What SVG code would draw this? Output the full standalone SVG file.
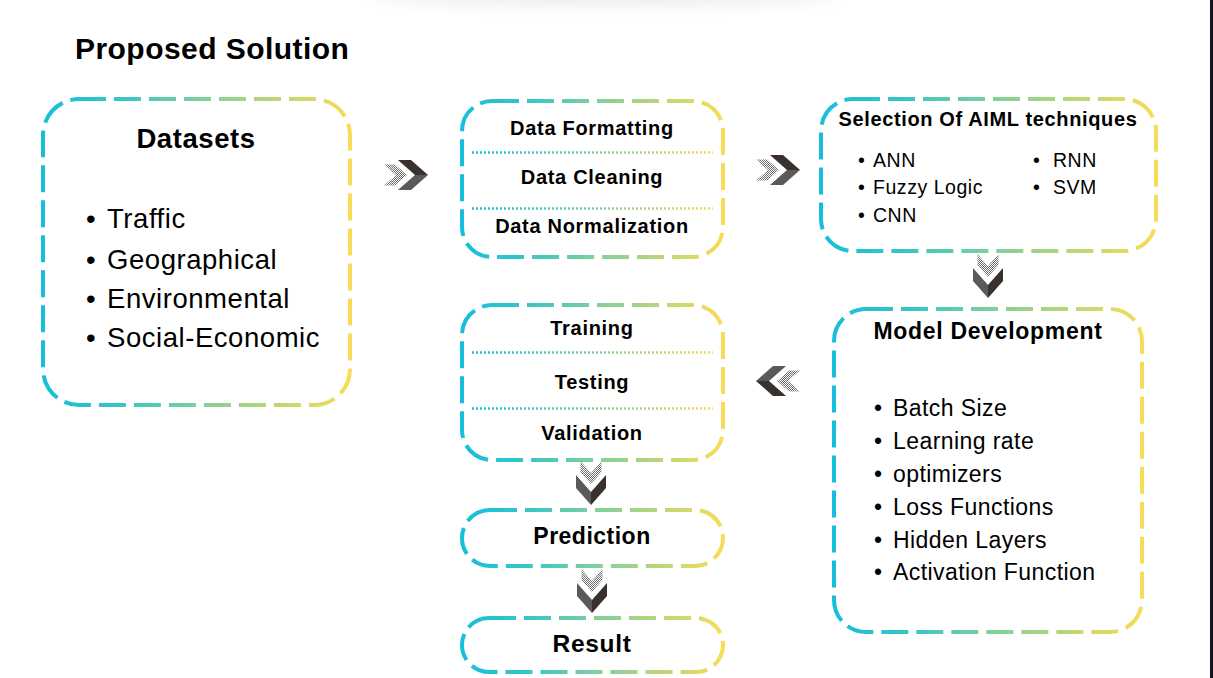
<svg xmlns="http://www.w3.org/2000/svg" width="1213" height="678" viewBox="0 0 1213 678">
<defs>
<linearGradient id="gBox" x1="0" y1="0" x2="1" y2="0">
<stop offset="0" stop-color="#17BEDC"/>
<stop offset="0.25" stop-color="#35C6C6"/>
<stop offset="0.5" stop-color="#7DCF9E"/>
<stop offset="0.75" stop-color="#B8D679"/>
<stop offset="1" stop-color="#F8DC57"/>
</linearGradient>
<linearGradient id="gDiv" gradientUnits="userSpaceOnUse" x1="472" y1="0" x2="713" y2="0">
<stop offset="0" stop-color="#17BEDC"/>
<stop offset="0.5" stop-color="#7DCF9E"/>
<stop offset="1" stop-color="#F8DC57"/>
</linearGradient>
<pattern id="chk" width="2" height="2" patternUnits="userSpaceOnUse">
<rect x="0" y="0" width="1" height="1" fill="#6e6e6e"/>
<rect x="1" y="1" width="1" height="1" fill="#6e6e6e"/>
</pattern>
<filter id="blur" x="-20%" y="-200%" width="140%" height="500%">
<feGaussianBlur stdDeviation="8"/>
</filter>
<g id="chev">
<polygon points="-44,-10.5 -33,-10.5 -21,0 -33,10.5 -44,10.5 -32,0" fill="url(#chk)"/>
<polygon points="-30,-15 -17,-15 0,0 -13,0" fill="#3a302c"/>
<polygon points="-13,0 0,0 -17,15 -30,15" fill="#5a5a5a"/>
</g>
</defs>
<style>
.box{fill:#fff;stroke:url(#gBox);stroke-width:4;stroke-dasharray:27 8}
.div{stroke:url(#gDiv);stroke-width:2.5;stroke-dasharray:2 2;fill:none}
text{font-family:"Liberation Sans",Arial,sans-serif;fill:#000}
.b{font-weight:bold}
.c{text-anchor:middle}
.sm{font-size:20px;letter-spacing:0.7px}
</style>
<rect width="1213" height="678" fill="#fff"/>
<ellipse cx="605" cy="-6" rx="235" ry="12" fill="#000" opacity="0.07" filter="url(#blur)"/>
<rect x="1210" y="0" width="3" height="678" fill="#15171c"/>

<text x="75" y="59" class="b" font-size="30" letter-spacing="0.45">Proposed Solution</text>

<g id="datasets">
<rect class="box" x="43" y="99" width="307" height="306" rx="36"/>
<text x="196" y="148" class="b c" font-size="27.5" letter-spacing="0.57">Datasets</text>
<g font-size="27.5" letter-spacing="0.55">
<text x="86" y="228">•</text><text x="107" y="228">Traffic</text>
<text x="86" y="269">•</text><text x="107" y="269">Geographical</text>
<text x="86" y="308">•</text><text x="107" y="308">Environmental</text>
<text x="86" y="347">•</text><text x="107" y="347">Social-Economic</text>
</g>
</g>

<g id="preprocessing">
<rect class="box" x="462" y="101" width="261" height="156" rx="30"/>
<line class="div" x1="472" y1="152.5" x2="713" y2="152.5"/>
<line class="div" x1="472" y1="208.5" x2="713" y2="208.5"/>
<text x="592" y="135" class="b c sm">Data Formatting</text>
<text x="592" y="184" class="b c sm">Data Cleaning</text>
<text x="592" y="233" class="b c sm">Data Normalization</text>
</g>

<g id="selection">
<rect class="box" x="821" y="99" width="335" height="152" rx="32"/>
<text x="988" y="126" class="b c" font-size="20" letter-spacing="0.63">Selection Of AIML techniques</text>
<g font-size="19.5" letter-spacing="0.54">
<text x="858" y="167">•</text><text x="873" y="167">ANN</text>
<text x="858" y="194">•</text><text x="873" y="194">Fuzzy Logic</text>
<text x="858" y="222">•</text><text x="873" y="222">CNN</text>
<text x="1033" y="167">•</text><text x="1053" y="167">RNN</text>
<text x="1033" y="194">•</text><text x="1053" y="194">SVM</text>
</g>
</g>

<g id="model">
<rect class="box" x="834" y="309" width="308" height="323" rx="32"/>
<text x="988" y="339" class="b c" font-size="23" letter-spacing="0.7">Model Development</text>
<g font-size="23" letter-spacing="0.43">
<text x="874" y="416">•</text><text x="893" y="416">Batch Size</text>
<text x="874" y="449">•</text><text x="893" y="449">Learning rate</text>
<text x="874" y="482">•</text><text x="893" y="482">optimizers</text>
<text x="874" y="515">•</text><text x="893" y="515">Loss Functions</text>
<text x="874" y="548">•</text><text x="893" y="548">Hidden Layers</text>
<text x="874" y="580">•</text><text x="893" y="580">Activation Function</text>
</g>
</g>

<g id="training">
<rect class="box" x="462" y="305" width="261" height="155" rx="30"/>
<line class="div" x1="472" y1="352.5" x2="713" y2="352.5"/>
<line class="div" x1="472" y1="408.5" x2="713" y2="408.5"/>
<text x="592" y="335" class="b c sm">Training</text>
<text x="592" y="389" class="b c sm">Testing</text>
<text x="592" y="440" class="b c sm">Validation</text>
</g>

<g id="prediction">
<rect class="box" x="462" y="510" width="261" height="56" rx="28"/>
<text x="592" y="544" class="b c" font-size="23" letter-spacing="0.49">Prediction</text>
</g>

<g id="result">
<rect class="box" x="462" y="618" width="261" height="54" rx="27"/>
<text x="592" y="652" class="b c" font-size="24.5" letter-spacing="0.68">Result</text>
</g>

<g id="connectors">
<use href="#chev" transform="translate(428,175)"/>
<use href="#chev" transform="translate(800,170)"/>
<use href="#chev" transform="translate(988,298) rotate(90)"/>
<use href="#chev" transform="translate(756,381) rotate(180)"/>
<use href="#chev" transform="translate(591,505) rotate(90)"/>
<use href="#chev" transform="translate(592,613) rotate(90)"/>
</g>
</svg>
